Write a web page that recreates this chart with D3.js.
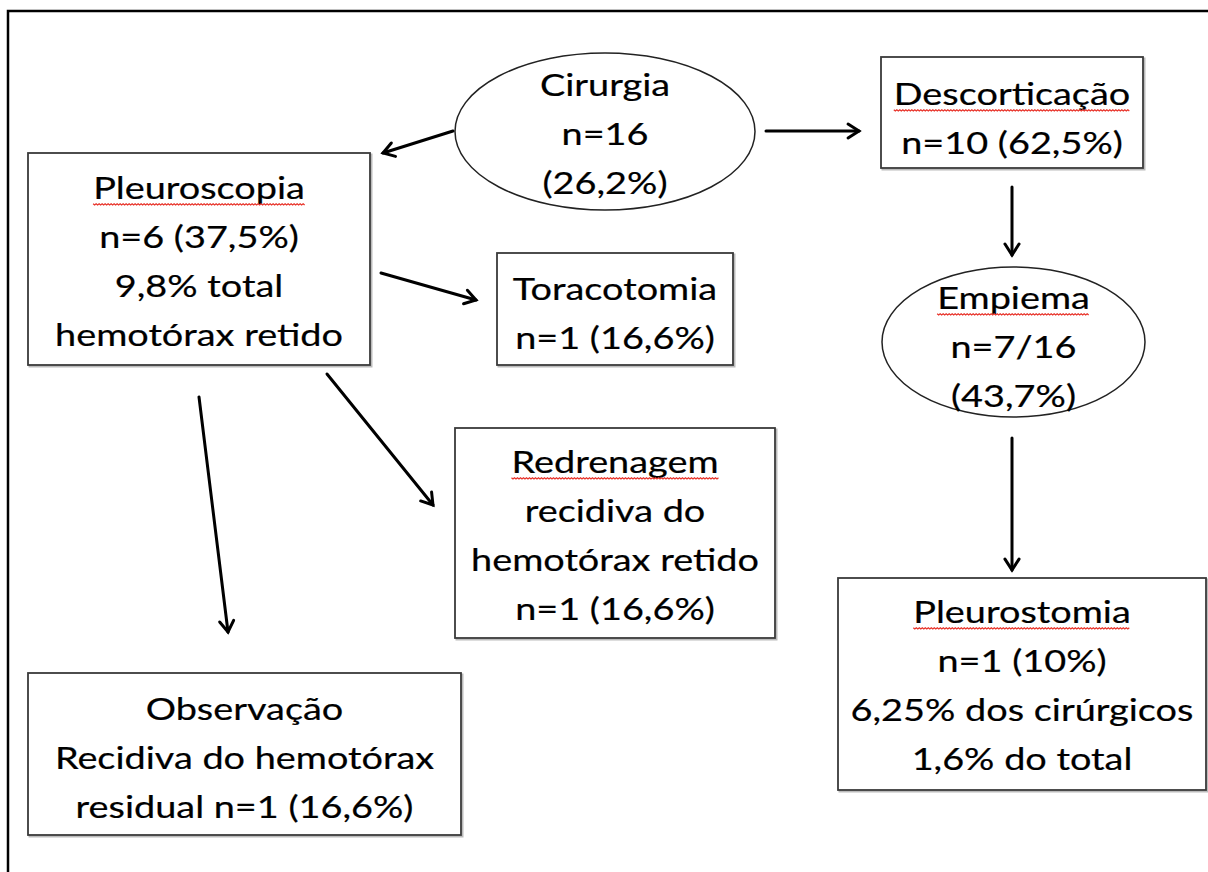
<!DOCTYPE html>
<html>
<head>
<meta charset="utf-8">
<script src="https://cdn.jsdelivr.net/npm/d3@7"></script>
<style>
  html, body { margin: 0; padding: 0; background: #fff; }
  svg { display: block; }
</style>
</head>
<body>
<svg id="chart" width="1208" height="872"></svg>
<script>
// ---------- DATA ----------
const nodeIds = ["cirurgia", "pleuroscopia", "descorticacao", "toracotomia", "empiema", "redrenagem", "pleurostomia", "observacao"];
const nodeShapes = ["ellipse", "rect", "rect", "rect", "ellipse", "rect", "rect", "rect"];
const nodeLines = [
  ["Cirurgia", "n=16", "(26,2%)"],
  ["Pleuroscopia", "n=6 (37,5%)", "9,8% total", "hemotórax retido"],
  ["Descorticação", "n=10 (62,5%)"],
  ["Toracotomia", "n=1 (16,6%)"],
  ["Empiema", "n=7/16", "(43,7%)"],
  ["Redrenagem", "recidiva do", "hemotórax retido", "n=1 (16,6%)"],
  ["Pleurostomia", "n=1 (10%)", "6,25% dos cirúrgicos", "1,6% do total"],
  ["Observação", "Recidiva do hemotórax", "residual n=1 (16,6%)"]
];
// first line flagged by the spell-checker (red squiggle)
const squiggled = [false, true, true, false, true, true, true, false];
const edgeFrom = ["cirurgia", "cirurgia", "pleuroscopia", "pleuroscopia", "pleuroscopia", "descorticacao", "empiema"];
const edgeTo   = ["pleuroscopia", "descorticacao", "toracotomia", "redrenagem", "observacao", "empiema", "pleurostomia"];

// ---------- LAYOUT (positions in px) ----------
const layout = {
  cirurgia:      {x0: 455, y0: 53,  x1: 755, y1: 210, base: 96},
  pleuroscopia:  {x0: 28,  y0: 153, x1: 370, y1: 365, base: 199},
  descorticacao: {x0: 881, y0: 57,  x1: 1143, y1: 168, base: 105},
  toracotomia:   {x0: 497, y0: 253, x1: 733, y1: 365, base: 300},
  empiema:       {x0: 882, y0: 267, x1: 1145, y1: 417, base: 309},
  redrenagem:    {x0: 455, y0: 428, x1: 775, y1: 638, base: 473},
  pleurostomia:  {x0: 838, y0: 578, x1: 1206, y1: 790, base: 623},
  observacao:    {x0: 28,  y0: 673, x1: 461, y1: 835, base: 720}
};
const edgeGeom = [
  [453, 131, 383, 153],
  [766, 131, 859, 131],
  [381, 273, 476, 300],
  [327, 374, 433, 505],
  [199, 397, 228, 632],
  [1012, 187, 1012, 255],
  [1012, 438, 1012, 570]
];
const lineGap = 49;
const fontSize = 30;

const svg = d3.select("#chart");

// outer frame
svg.append("rect")
  .attr("x", 8).attr("y", 11).attr("width", 1240).attr("height", 900)
  .attr("fill", "none").attr("stroke", "#000").attr("stroke-width", 2.5);

// shapes
nodeIds.forEach((id, i) => {
  const L = layout[id];
  if (nodeShapes[i] === "ellipse") {
    svg.append("ellipse")
      .attr("cx", (L.x0 + L.x1) / 2).attr("cy", (L.y0 + L.y1) / 2)
      .attr("rx", (L.x1 - L.x0) / 2).attr("ry", (L.y1 - L.y0) / 2)
      .attr("fill", "#fff").attr("stroke", "#222").attr("stroke-width", 1.5);
  } else {
    svg.append("rect")
      .attr("x", L.x0 + 1.5).attr("y", L.y0 + 1.5)
      .attr("width", L.x1 - L.x0).attr("height", L.y1 - L.y0)
      .attr("fill", "none").attr("stroke", "#bbb").attr("stroke-width", 2);
    svg.append("rect")
      .attr("x", L.x0).attr("y", L.y0)
      .attr("width", L.x1 - L.x0).attr("height", L.y1 - L.y0)
      .attr("fill", "#fff").attr("stroke", "#3a3a3a").attr("stroke-width", 1.8);
  }
});

// text: calibrate horizontal stretch (the reference text is wide, Calibri-like)
const probe = svg.append("text").attr("font-family", "Lato, 'Open Sans', sans-serif")
  .attr("font-size", fontSize).text("hemotórax retido");
const probeW = probe.node().getComputedTextLength();
probe.remove();
const sx = 288 / probeW;

nodeIds.forEach((id, i) => {
  const L = layout[id];
  const cx = (L.x0 + L.x1) / 2;
  const g = svg.append("g");
  nodeLines[i].forEach((line, j) => {
    const y = L.base + j * lineGap;
    const t = g.append("text")
      .attr("transform", `translate(${cx},${y}) scale(${sx},1)`)
      .attr("text-anchor", "middle")
      .attr("font-family", "Lato, 'Open Sans', sans-serif")
      .attr("font-size", fontSize)
      .attr("fill", "#000")
      .attr("stroke", "#000").attr("stroke-width", 0.2)
      .text(line);
    if (j === 0 && squiggled[i]) {
      const w = t.node().getComputedTextLength() * sx;
      const xs = cx - w / 2, xe = cx + w / 2, yy = y + 5;
      const pts = [];
      let k = 0;
      for (let x = xs; x <= xe; x += 1.5, k++) pts.push([x, yy + (k % 2 ? 1 : -0.2)]);
      svg.append("path")
        .attr("d", d3.line()(pts))
        .attr("fill", "none").attr("stroke", "#e8332a").attr("stroke-width", 1.3);
    }
  });
});

// arrows
const head = 13, ang = Math.PI / 5.5;
edgeFrom.forEach((f, i) => {
  const [x1, y1, x2, y2] = edgeGeom[i];
  const a = Math.atan2(y2 - y1, x2 - x1);
  svg.append("line")
    .attr("x1", x1).attr("y1", y1).attr("x2", x2).attr("y2", y2)
    .attr("stroke", "#000").attr("stroke-width", 3).attr("stroke-linecap", "round");
  const p1 = [x2 - head * Math.cos(a - ang), y2 - head * Math.sin(a - ang)];
  const p2 = [x2 - head * Math.cos(a + ang), y2 - head * Math.sin(a + ang)];
  svg.append("path")
    .attr("d", d3.line()([p1, [x2, y2], p2]))
    .attr("fill", "none").attr("stroke", "#000").attr("stroke-width", 3)
    .attr("stroke-linecap", "round").attr("stroke-linejoin", "miter");
});
</script>
</body>
</html>
